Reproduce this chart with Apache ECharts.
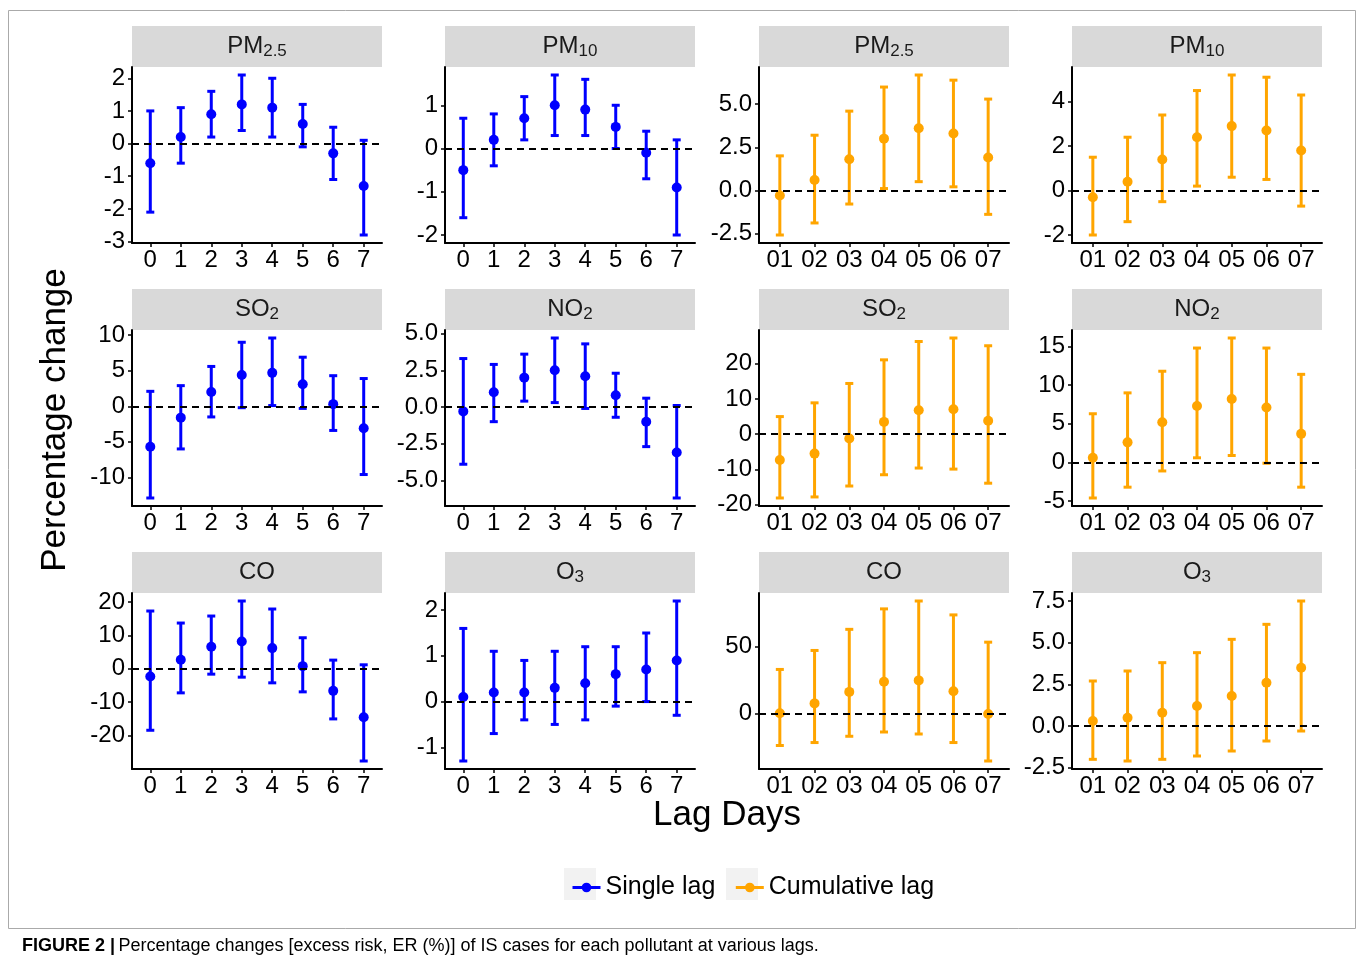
<!DOCTYPE html>
<html>
<head>
<meta charset="utf-8">
<style>
    html, body { margin: 0; padding: 0; background: #fff; }
    #chart { width: 1358px; height: 966px; }
</style>
<script src="https://cdn.jsdelivr.net/npm/echarts@6/dist/echarts.min.js"></script>
</head>
<body>
<div id="chart"></div>
<script>
// lag categories
var singleLags = ['0', '1', '2', '3', '4', '5', '6', '7'];
var cumLags = ['01', '02', '03', '04', '05', '06', '07'];

// single lag: estimate / lower / upper (ER %)
var pm25SingleEst = [-0.6, 0.2, 0.9, 1.2, 1.1, 0.6, -0.3, -1.3];
var pm25SingleLow = [-2.1, -0.6, 0.2, 0.4, 0.2, -0.1, -1.1, -2.8];
var pm25SingleHigh = [1.0, 1.1, 1.6, 2.1, 2.0, 1.2, 0.5, 0.1];

var pm10SingleEst = [-0.5, 0.2, 0.7, 1.0, 0.9, 0.5, -0.1, -0.9];
var pm10SingleLow = [-1.6, -0.4, 0.2, 0.3, 0.3, 0.0, -0.7, -2.0];
var pm10SingleHigh = [0.7, 0.8, 1.2, 1.7, 1.6, 1.0, 0.4, 0.2];

var so2SingleEst = [-5.7, -1.6, 2.0, 4.4, 4.7, 3.1, 0.3, -3.1];
var so2SingleLow = [-12.9, -6.0, -1.5, -0.2, 0.1, -0.3, -3.4, -9.6];
var so2SingleHigh = [2.1, 2.9, 5.6, 9.0, 9.6, 6.9, 4.3, 3.9];

var no2SingleEst = [-0.3, 1.0, 2.0, 2.5, 2.1, 0.8, -1.0, -3.1];
var no2SingleLow = [-3.9, -1.0, 0.4, 0.3, -0.1, -0.7, -2.7, -6.2];
var no2SingleHigh = [3.3, 2.9, 3.6, 4.7, 4.3, 2.3, 0.6, 0.1];

var coSingleEst = [-2.3, 2.7, 6.6, 8.2, 6.2, 0.8, -6.6, -14.5];
var coSingleLow = [-18.4, -7.2, -1.6, -2.5, -4.2, -6.9, -15.0, -27.6];
var coSingleHigh = [17.3, 13.7, 15.8, 20.3, 17.9, 9.3, 2.6, 1.2];

var o3SingleEst = [0.1, 0.2, 0.2, 0.3, 0.4, 0.6, 0.7, 0.9];
var o3SingleLow = [-1.3, -0.7, -0.4, -0.5, -0.4, -0.1, 0.0, -0.3];
var o3SingleHigh = [1.6, 1.1, 0.9, 1.1, 1.2, 1.2, 1.5, 2.2];

// cumulative lag
var pm25CumEst = [-0.3, 0.6, 1.8, 3.0, 3.6, 3.3, 1.9];
var pm25CumLow = [-2.6, -1.9, -0.8, 0.1, 0.5, 0.2, -1.4];
var pm25CumHigh = [2.0, 3.2, 4.6, 6.0, 6.7, 6.4, 5.3];

var pm10CumEst = [-0.3, 0.4, 1.4, 2.4, 2.9, 2.7, 1.8];
var pm10CumLow = [-2.0, -1.4, -0.5, 0.2, 0.6, 0.5, -0.7];
var pm10CumHigh = [1.5, 2.4, 3.4, 4.5, 5.2, 5.1, 4.3];

var so2CumEst = [-7.3, -5.5, -1.2, 3.5, 6.8, 7.1, 3.8];
var so2CumLow = [-18.1, -17.8, -14.7, -11.5, -9.6, -9.9, -13.9];
var so2CumHigh = [5.0, 8.9, 14.4, 21.1, 26.3, 27.3, 25.1];

var no2CumEst = [0.6, 2.6, 5.2, 7.3, 8.2, 7.1, 3.7];
var no2CumLow = [-4.6, -3.2, -1.1, 0.6, 0.9, -0.1, -3.2];
var no2CumHigh = [6.3, 9.0, 11.8, 14.8, 16.1, 14.8, 11.4];

var coCumEst = [0.0, 7.4, 16.0, 23.6, 24.6, 16.5, -0.5];
var coCumLow = [-24.1, -21.9, -17.2, -14.0, -15.5, -21.9, -35.7];
var coCumHigh = [32.8, 47.0, 62.8, 78.1, 84.0, 73.6, 53.2];

var o3CumEst = [0.3, 0.5, 0.8, 1.2, 1.8, 2.6, 3.5];
var o3CumLow = [-2.0, -2.1, -2.0, -1.8, -1.5, -0.9, -0.3];
var o3CumHigh = [2.7, 3.3, 3.8, 4.4, 5.2, 6.1, 7.5];

// y tick labels per panel
var pm25SingleTicks = ['-3', '-2', '-1', '0', '1', '2'];
var pm10SingleTicks = ['-2', '-1', '0', '1'];
var pm25CumTicks = ['-2.5', '0.0', '2.5', '5.0'];
var pm10CumTicks = ['-2', '0', '2', '4'];
var so2SingleTicks = ['-10', '-5', '0', '5', '10'];
var no2SingleTicks = ['-5.0', '-2.5', '0.0', '2.5', '5.0'];
var so2CumTicks = ['-20', '-10', '0', '10', '20'];
var no2CumTicks = ['-5', '0', '5', '10', '15'];
var coSingleTicks = ['-20', '-10', '0', '10', '20'];
var o3SingleTicks = ['-1', '0', '1', '2'];
var coCumTicks = ['0', '50'];
var o3CumTicks = ['-2.5', '0.0', '2.5', '5.0', '7.5'];

var BLUE = '#0000ff';
var ORANGE = '#ffa500';
var FONT = '"Liberation Sans", Arial, sans-serif';

// facet layout (row by row)
var panels = [
    {title: ['PM', '2.5'], cats: singleLags, est: pm25SingleEst, low: pm25SingleLow, high: pm25SingleHigh, ticks: pm25SingleTicks, cum: false},
    {title: ['PM', '10'], cats: singleLags, est: pm10SingleEst, low: pm10SingleLow, high: pm10SingleHigh, ticks: pm10SingleTicks, cum: false},
    {title: ['PM', '2.5'], cats: cumLags, est: pm25CumEst, low: pm25CumLow, high: pm25CumHigh, ticks: pm25CumTicks, cum: true},
    {title: ['PM', '10'], cats: cumLags, est: pm10CumEst, low: pm10CumLow, high: pm10CumHigh, ticks: pm10CumTicks, cum: true},
    {title: ['SO', '2'], cats: singleLags, est: so2SingleEst, low: so2SingleLow, high: so2SingleHigh, ticks: so2SingleTicks, cum: false},
    {title: ['NO', '2'], cats: singleLags, est: no2SingleEst, low: no2SingleLow, high: no2SingleHigh, ticks: no2SingleTicks, cum: false},
    {title: ['SO', '2'], cats: cumLags, est: so2CumEst, low: so2CumLow, high: so2CumHigh, ticks: so2CumTicks, cum: true},
    {title: ['NO', '2'], cats: cumLags, est: no2CumEst, low: no2CumLow, high: no2CumHigh, ticks: no2CumTicks, cum: true},
    {title: ['CO', ''], cats: singleLags, est: coSingleEst, low: coSingleLow, high: coSingleHigh, ticks: coSingleTicks, cum: false},
    {title: ['O', '3'], cats: singleLags, est: o3SingleEst, low: o3SingleLow, high: o3SingleHigh, ticks: o3SingleTicks, cum: false},
    {title: ['CO', ''], cats: cumLags, est: coCumEst, low: coCumLow, high: coCumHigh, ticks: coCumTicks, cum: true},
    {title: ['O', '3'], cats: cumLags, est: o3CumEst, low: o3CumLow, high: o3CumHigh, ticks: o3CumTicks, cum: true}
];

var colLeft = [132, 445, 759, 1072];
var rowTop = [67, 330, 593];
var plotW = 250, plotH = 176, stripH = 41;

// 误差线
function errorBar(params, api) {
    var x = api.value(0);
    var top = api.coord([x, api.value(2)]);
    var bot = api.coord([x, api.value(1)]);
    var cap = 4;
    var style = {stroke: api.visual('color'), lineWidth: 3};
    return {
        type: 'group',
        children: [
            {type: 'line', shape: {x1: top[0], y1: top[1], x2: bot[0], y2: bot[1]}, style: style},
            {type: 'line', shape: {x1: top[0] - cap, y1: top[1], x2: top[0] + cap, y2: top[1]}, style: style},
            {type: 'line', shape: {x1: bot[0] - cap, y1: bot[1], x2: bot[0] + cap, y2: bot[1]}, style: style}
        ]
    };
}

var grids = [], xAxes = [], yAxes = [], series = [], graphics = [];

panels.forEach(function (p, i) {
    var left = colLeft[i % 4], top = rowTop[Math.floor(i / 4)];
    var color = p.cum ? ORANGE : BLUE;
    var n = p.cats.length;
    var idx = p.cats.map(function (c, k) { return k; });

    // ggplot style 5% expansion
    var lo = Math.min(0, Math.min.apply(null, p.low));
    var hi = Math.max(0, Math.max.apply(null, p.high));
    var pad = (hi - lo) * 0.05;
    var tickVals = p.ticks.map(Number);

    grids.push({left: left, top: top, width: plotW, height: plotH});

    xAxes.push({
        gridIndex: i, type: 'value', min: -0.6, max: n - 1 + 0.6,
        axisLine: {onZero: false, lineStyle: {color: '#000', width: 2}},
        axisTick: {customValues: idx, length: 4, lineStyle: {color: '#000', width: 1.5}},
        axisLabel: {
            customValues: idx, margin: 5, color: '#000', fontSize: 24, fontFamily: FONT,
            formatter: function (v) { return p.cats[Math.round(v)]; }
        },
        splitLine: {show: false}
    });

    yAxes.push({
        gridIndex: i, type: 'value', min: lo - pad, max: hi + pad,
        axisLine: {show: true, onZero: false, lineStyle: {color: '#000', width: 2}},
        axisTick: {show: true, customValues: tickVals, length: 4, lineStyle: {color: '#000', width: 1.5}},
        axisLabel: {
            customValues: tickVals, margin: 7, color: '#000', fontSize: 24, fontFamily: FONT,
            formatter: function (v) {
                for (var k = 0; k < tickVals.length; k++) {
                    if (Math.abs(tickVals[k] - v) < 1e-9) return p.ticks[k];
                }
                return '';
            }
        },
        splitLine: {show: false}
    });

    series.push({
        name: (p.cum ? 'Cumulative lag' : 'Single lag') + ' CI',
        type: 'custom', xAxisIndex: i, yAxisIndex: i,
        renderItem: errorBar,
        itemStyle: {color: color},
        encode: {x: 0, y: [1, 2]},
        data: idx.map(function (k) { return [k, p.low[k], p.high[k]]; }),
        z: 3
    });

    series.push({
        name: p.cum ? 'Cumulative lag' : 'Single lag',
        type: 'line', xAxisIndex: i, yAxisIndex: i,
        data: idx.map(function (k) { return [k, p.est[k]]; }),
        symbol: 'circle', symbolSize: 10, showSymbol: true,
        itemStyle: {color: color},
        lineStyle: {opacity: 0},
        emphasis: {disabled: true},
        z: 4,
        markLine: {
            silent: true, symbol: 'none',
            label: {show: false},
            lineStyle: {color: '#000', type: [7, 5], width: 2},
            data: [{yAxis: 0}]
        }
    });

    // facet strip
    graphics.push({
        type: 'rect', z: 0,
        shape: {x: left, y: top - stripH, width: plotW, height: stripH},
        style: {fill: '#d9d9d9'}
    });
    graphics.push({
        type: 'text', z: 1,
        x: left + plotW / 2, y: top - stripH / 2,
        style: {
            text: '{m|' + p.title[0] + '}' + (p.title[1] ? '{s|' + p.title[1] + '}' : ''),
            align: 'center', verticalAlign: 'middle',
            textAlign: 'center', textVerticalAlign: 'middle',
            fill: '#1a1a1a',
            rich: {
                m: {fontSize: 24, fontFamily: FONT, lineHeight: 27, color: '#1a1a1a'},
                s: {fontSize: 17, fontFamily: FONT, lineHeight: 17, verticalAlign: 'bottom', color: '#1a1a1a'}
            }
        }
    });
});

// axis titles, legend keys, caption, frame
graphics.push(
    {
        type: 'text', x: 55, y: 420, rotation: Math.PI / 2,
        style: {text: 'Percentage change', font: '35px ' + FONT, fill: '#000',
            align: 'center', verticalAlign: 'middle', textAlign: 'center', textVerticalAlign: 'middle'}
    },
    {
        type: 'text', x: 727, y: 815,
        style: {text: 'Lag Days', font: '35px ' + FONT, fill: '#000',
            align: 'center', verticalAlign: 'middle', textAlign: 'center', textVerticalAlign: 'middle'}
    },
    {type: 'rect', z: 0, shape: {x: 564, y: 868, width: 32, height: 32}, style: {fill: '#f2f2f2'}},
    {type: 'rect', z: 0, shape: {x: 726, y: 868, width: 32, height: 32}, style: {fill: '#f2f2f2'}},
    {
        type: 'rect', z: 0,
        shape: {x: 8.5, y: 10.5, width: 1347, height: 918},
        style: {fill: 'none', stroke: '#aaaaaa', lineWidth: 1}
    },
    {
        type: 'text', x: 22, y: 946,
        style: {
            text: '{b|FIGURE 2 |} {n|Percentage changes [excess risk, ER (%)] of IS cases for each pollutant at various lags.}',
            verticalAlign: 'middle', textVerticalAlign: 'middle',
            rich: {
                b: {fontSize: 18, fontWeight: 'bold', fontFamily: FONT, color: '#444'},
                n: {fontSize: 18, fontFamily: FONT, color: '#444'}
            }
        }
    }
);

var myChart = echarts.init(document.getElementById('chart'));

var option = {
    backgroundColor: '#fff',
    animation: false,
    grid: grids,
    xAxis: xAxes,
    yAxis: yAxes,
    series: series,
    legend: {
        data: ['Single lag', 'Cumulative lag'],
        left: 566, top: 870,
        itemWidth: 28, itemHeight: 12, itemGap: 19,
        selectedMode: false,
        z: 10,
        lineStyle: {width: 3, opacity: 1},
        itemStyle: {opacity: 1},
        textStyle: {fontSize: 25, fontFamily: FONT, color: '#000'}
    },
    graphic: graphics
};

myChart.setOption(option);
</script>
</body>
</html>
